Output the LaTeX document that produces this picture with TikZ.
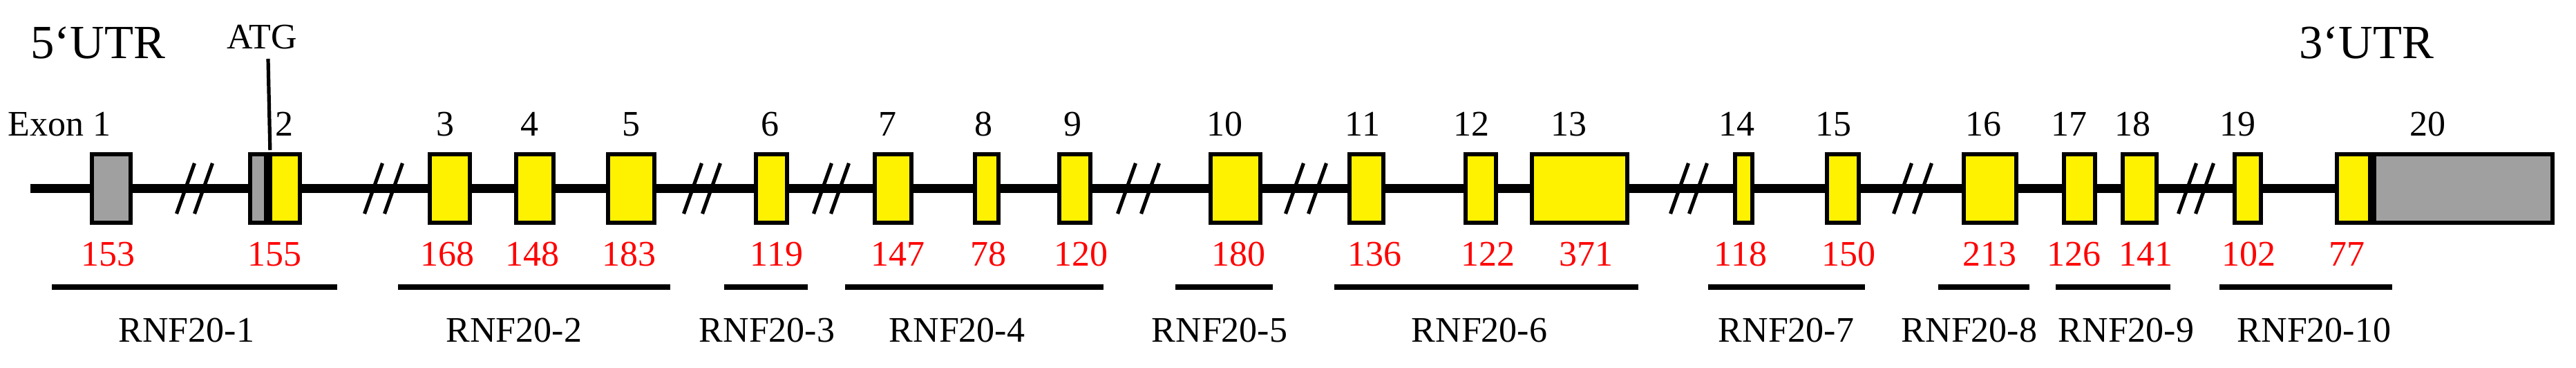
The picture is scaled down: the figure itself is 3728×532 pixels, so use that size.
\documentclass[tikz,border=0pt]{standalone}
\usepackage{fontspec}
\setmainfont{Liberation Serif}
\definecolor{exyellow}{HTML}{FFF200}
\definecolor{exgrey}{HTML}{A0A0A0}
\definecolor{exred}{HTML}{FF0000}
\tikzset{
  exonbox/.style={draw=black, line width=1.5pt, inner sep=0pt, outer sep=0pt, minimum height=24.75pt},
  mainline/.style={line width=3.1pt},
  cutmark/.style={line width=1.3pt},
  regionbar/.style={line width=2.1pt},
  atgline/.style={line width=1.3pt},
  numlab/.style={anchor=base, inner sep=0pt, font=\fontsize{13pt}{15pt}\selectfont},
  sizelab/.style={numlab, text=exred},
  utrlab/.style={anchor=base, inner sep=0pt, font=\fontsize{17.2pt}{20pt}\selectfont},
}
\newcommand\exonnode[4]{\node[exonbox, fill=#4, minimum width={(#3-#2-6)*0.25pt}] (#1) at ({(#2+#3)/2},272.5) {};}
\newcommand\cutpair[3]{%
  \coordinate (#1) at (#2,272.5);
  \draw[cutmark] ([xshift={(-#3/2-13)*0.25pt}, yshift={-36.5*0.25pt}]#1) -- ([xshift={(-#3/2+13)*0.25pt}, yshift={36.5*0.25pt}]#1);
  \draw[cutmark] ([xshift={(#3/2-13)*0.25pt}, yshift={-36.5*0.25pt}]#1) -- ([xshift={(#3/2+13)*0.25pt}, yshift={36.5*0.25pt}]#1);}
\begin{document}
\begin{tikzpicture}[x=0.25pt, y=-0.25pt]
\useasboundingbox (0,0) rectangle (3728,532);
% exons
\exonnode{e1}{130}{192}{exgrey}
\exonnode{e2a}{359}{388}{exgrey}
\exonnode{e2b}{388}{437}{exyellow}
\exonnode{e3}{619}{683}{exyellow}
\exonnode{e4}{744}{804}{exyellow}
\exonnode{e5}{877}{950}{exyellow}
\exonnode{e6}{1091}{1142}{exyellow}
\exonnode{e7}{1263}{1322}{exyellow}
\exonnode{e8}{1408}{1448}{exyellow}
\exonnode{e9}{1530}{1581}{exyellow}
\exonnode{e10}{1749}{1827}{exyellow}
\exonnode{e11}{1950}{2005}{exyellow}
\exonnode{e12}{2118}{2168}{exyellow}
\exonnode{e13}{2214}{2358}{exyellow}
\exonnode{e14}{2508}{2539}{exyellow}
\exonnode{e15}{2641}{2693}{exyellow}
\exonnode{e16}{2839}{2921}{exyellow}
\exonnode{e17}{2984}{3035}{exyellow}
\exonnode{e18}{3069}{3124}{exyellow}
\exonnode{e19}{3231}{3275}{exyellow}
\exonnode{e20a}{3379}{3433}{exyellow}
\exonnode{e20b}{3433}{3697}{exgrey}
% main line
\coordinate (start) at (44,272.5);
\draw[mainline] (start) -- (e1.west);
\foreach \a/\b in {e1/e2a, e2b/e3, e3/e4, e4/e5, e5/e6, e6/e7, e7/e8, e8/e9, e9/e10,
  e10/e11, e11/e12, e12/e13, e13/e14, e14/e15, e15/e16, e16/e17, e17/e18, e18/e19, e19/e20a}
  \draw[mainline] (\a.east) -- (\b.west);
% breaks
\cutpair{b1}{281.5}{26}
\cutpair{b2}{555}{29}
\cutpair{b3}{1016}{27}
\cutpair{b4}{1203}{25}
\cutpair{b5}{1647.5}{34}
\cutpair{b6}{1890}{33}
\cutpair{b7}{2444}{27}
\cutpair{b8}{2768}{29}
\cutpair{b9}{3178}{25}
% ATG
\node[numlab] (atg) at (379,71) {ATG};
\coordinate (atgtop) at (388,85);
\draw[atgline, shorten >=1.5pt] (atgtop) -- (e2b.north west);
% UTR labels
\node[utrlab] (utr5) at (142,85) {5‘UTR};
\node[utrlab] (utr3) at (3425,85) {3‘UTR};
% exon numbers
\node[numlab] (l1) at (86,197) {Exon 1};
\foreach \n/\x in {2/411, 3/644, 4/766, 5/913, 6/1114, 7/1284, 8/1423, 9/1552, 10/1772,
  11/1972, 12/2129, 13/2270, 14/2513, 15/2653, 16/2870, 17/2994, 18/3086, 19/3238, 20/3513}
  \node[numlab] (l\n) at (\x,197) {\n};
% sizes
\foreach \n/\v/\x in {1/153/156, 2/155/397, 3/168/647, 4/148/770, 5/183/910, 6/119/1124,
  7/147/1299, 8/78/1430, 9/120/1564, 10/180/1792, 11/136/1989, 12/122/2153, 13/371/2295,
  14/118/2519, 15/150/2675, 16/213/2879, 17/126/3001, 18/141/3105, 19/102/3254, 20/77/3396}
  \node[sizelab] (s\n) at (\x,385) {\v};
% regions
\foreach \n/\p/\q/\c in {1/75/488/270, 2/576/970/744, 3/1048/1169/1110, 4/1223/1597/1385,
  5/1701/1842/1765, 6/1931/2371/2141, 7/2472/2699/2585, 8/2805/2937/2850,
  9/2975/3141/3077, 10/3212/3462/3349}
{
  \draw[regionbar] (\p,415) -- (\q,415);
  \node[numlab] (r\n) at (\c,495) {RNF20-\n};
}
\end{tikzpicture}
\end{document}
